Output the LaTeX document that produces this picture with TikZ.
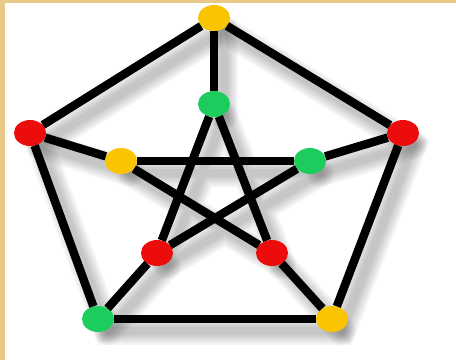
\documentclass[tikz,border=0pt]{standalone}
\usetikzlibrary{shapes.geometric}
\definecolor{beige}{RGB}{232,201,138}
\definecolor{nyellow}{RGB}{250,196,0}
\definecolor{ngreen}{RGB}{28,204,92}
\definecolor{nred}{RGB}{236,12,12}
\tikzset{
  vtx/.style={ellipse, minimum width=32pt, minimum height=26pt, inner sep=0pt},
  yv/.style={vtx, fill=nyellow},
  gv/.style={vtx, fill=ngreen},
  rv/.style={vtx, fill=nred},
  edge/.style={line width=8.5pt, black},
  shade/.style={line width=#1, black, opacity=0.04, line cap=round},
}
\newcommand\sdw[1]{([shift={(10,12)}]#1)}
\begin{document}
\begin{tikzpicture}[x=1pt, y=-1pt]
\useasboundingbox (0,0) rectangle (456,360);
\fill[white] (0,0) rectangle (456,360);
\fill[beige] (0,0) rectangle (456,2.5);
\fill[beige] (0,0) rectangle (5,360);
% coordinates
\coordinate (T) at (214,18);
\coordinate (L) at (30,133);
\coordinate (R) at (403,133);
\coordinate (BL) at (98,319);
\coordinate (BR) at (332,319);
\coordinate (iT) at (214,104);
\coordinate (iL) at (121,161);
\coordinate (iR) at (310,161);
\coordinate (iBL) at (157,253);
\coordinate (iBR) at (272,253);
% soft shadow
\foreach \w in {28,24,20,16,12,8} {
    \draw[shade=\w pt] \sdw{T} -- \sdw{R} -- \sdw{BR} -- \sdw{BL} -- \sdw{L} -- cycle;
    \draw[shade=\w pt] \sdw{T} -- \sdw{iT} \sdw{L} -- \sdw{iL} \sdw{R} -- \sdw{iR} \sdw{BL} -- \sdw{iBL} \sdw{BR} -- \sdw{iBR};
    \draw[shade=\w pt] \sdw{iT} -- \sdw{iBL} \sdw{iT} -- \sdw{iBR} \sdw{iL} -- \sdw{iR} \sdw{iL} -- \sdw{iBR} \sdw{iR} -- \sdw{iBL};
}
% nodes
\node[yv] (nT) at (T) {};
\node[rv] (nL) at (L) {};
\node[rv] (nR) at (R) {};
\node[gv] (nBL) at (BL) {};
\node[yv] (nBR) at (BR) {};
\node[gv] (niT) at (iT) {};
\node[yv] (niL) at (iL) {};
\node[gv] (niR) at (iR) {};
\node[rv] (niBL) at (iBL) {};
\node[rv] (niBR) at (iBR) {};
% edges
\draw[edge] (nT) -- (nR);
\draw[edge] (nR) -- (nBR);
\draw[edge] (nBR) -- (nBL);
\draw[edge] (nBL) -- (nL);
\draw[edge] (nL) -- (nT);
\draw[edge] (nT) -- (niT);
\draw[edge] (nL) -- (niL);
\draw[edge] (nR) -- (niR);
\draw[edge] (nBL) -- (niBL);
\draw[edge] (nBR) -- (niBR);
\draw[edge] (niT) -- (niBL);
\draw[edge] (niT) -- (niBR);
\draw[edge] (niL) -- (niR);
\draw[edge] (niL) -- (niBR);
\draw[edge] (niR) -- (niBL);
\end{tikzpicture}
\end{document}
